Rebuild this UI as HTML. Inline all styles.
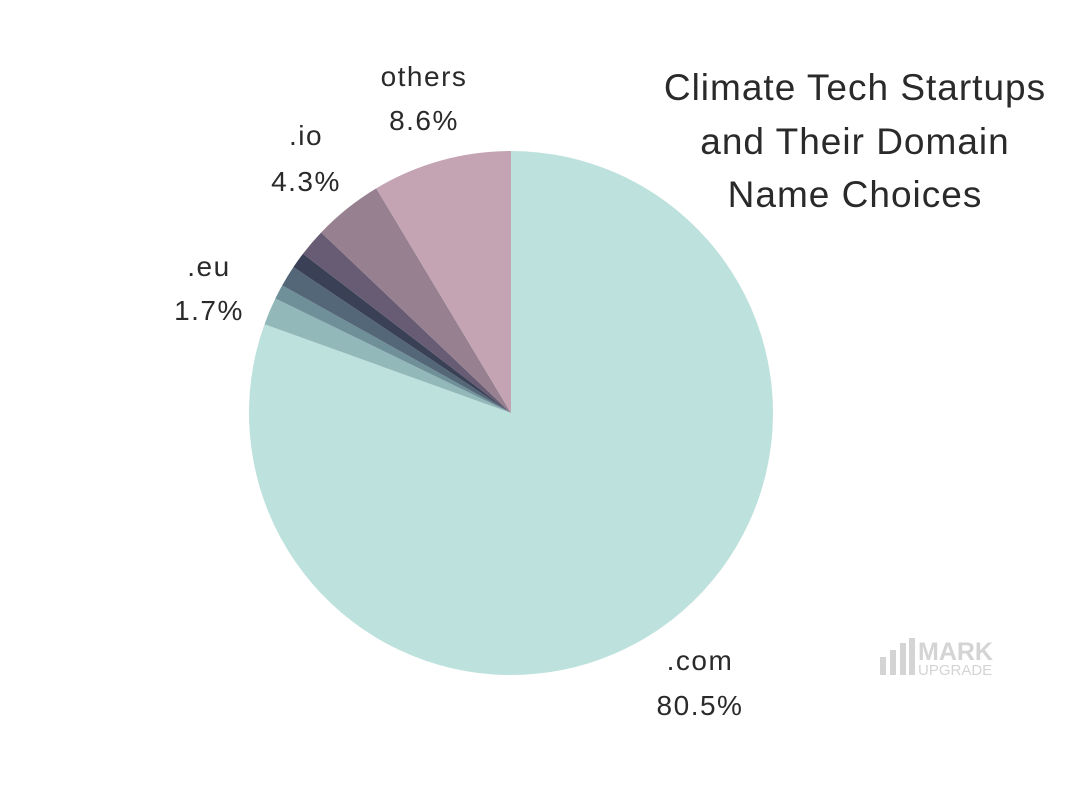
<!DOCTYPE html>
<html><head><meta charset="utf-8"><style>
body{margin:0;background:#fff;}
svg text{font-family:"Liberation Sans",sans-serif;fill:#2a2a2a;}
</style></head><body>
<svg id="s" width="1080" height="800" viewBox="0 0 1080 800" xmlns="http://www.w3.org/2000/svg">
<g id="pie"></g>
<g font-size="28" text-anchor="middle" letter-spacing="1.5">
<text x="424" y="86">others</text><text x="424" y="130">8.6%</text>
<text x="306" y="145">.io</text><text x="306" y="191">4.3%</text>
<text x="209" y="276">.eu</text><text x="209" y="320">1.7%</text>
<text x="700" y="670">.com</text><text x="700" y="715">80.5%</text>
</g>
<g font-size="37" text-anchor="middle" letter-spacing="1">
<text x="855" y="100">Climate Tech Startups</text>
<text x="855" y="154">and Their Domain</text>
<text x="855" y="207">Name Choices</text>
</g>
<g fill="#d4d4d4">
<rect x="880" y="657" width="6" height="18"/><rect x="890" y="650" width="6" height="25"/><rect x="900" y="643" width="6" height="32"/><rect x="909" y="638" width="6" height="37"/>
<text x="918" y="660" font-size="25" font-weight="bold" style="fill:#d4d4d4">MARK</text>
<text x="918" y="675" font-size="15" style="fill:#d4d4d4">UPGRADE</text>
</g>
</svg>
<script>
var d=[[80.5,"#bde1dc"],[1.7,"#93b8b9"],[0.9,"#6f8f99"],[1.3,"#546778"],[1.0,"#3a4156"],[1.7,"#675c73"],[4.3,"#978090"],[8.6,"#c4a4b3"]];
var cx=511,cy=413,r=262,a=0,g=document.getElementById("pie"),h="";
function p(t){var q=t/100*2*Math.PI;return [cx+r*Math.sin(q),cy-r*Math.cos(q)];}
d.forEach(function(e){var s=p(a),b=a+e[0],t=p(b);
h+='<path fill="'+e[1]+'" d="M'+cx+','+cy+' L'+s[0]+','+s[1]+' A'+r+','+r+' 0 '+(e[0]>50?1:0)+' 1 '+t[0]+','+t[1]+' Z"/>';a=b;});
g.innerHTML=h;
</script>
</body></html>
